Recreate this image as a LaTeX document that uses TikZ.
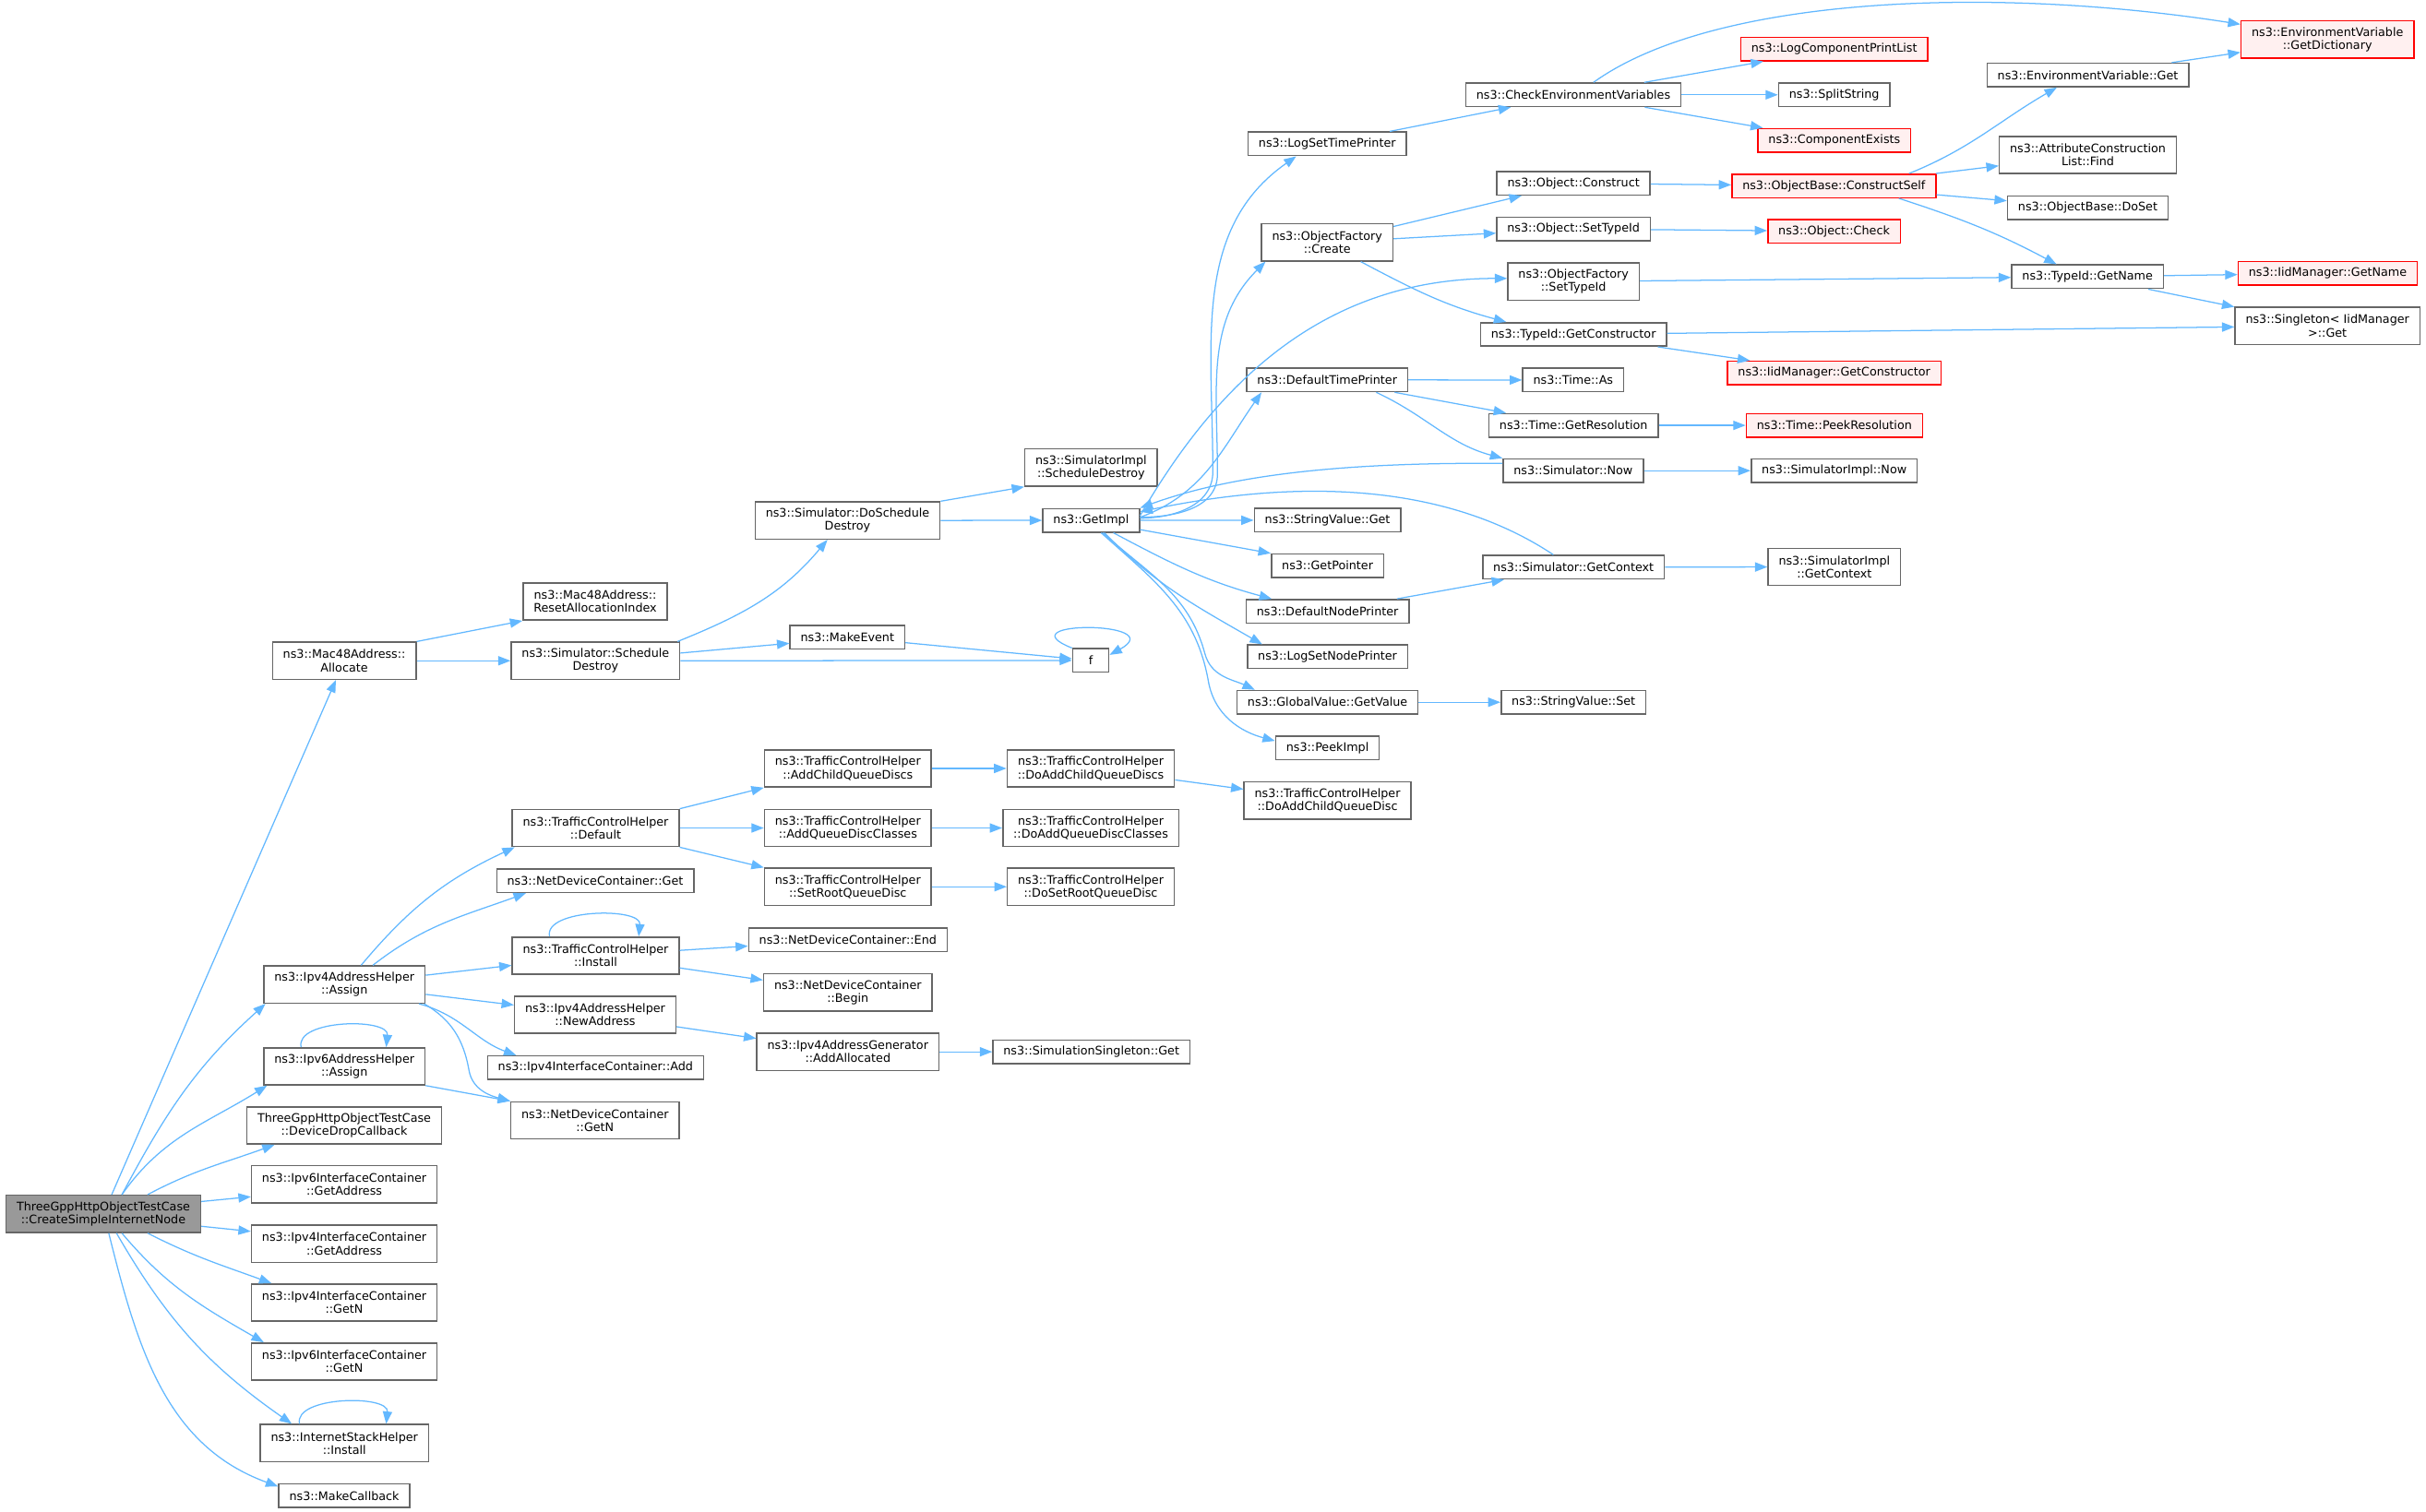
\documentclass[tikz,border=0pt]{standalone}
\usepackage{fontspec}
\setmainfont{DejaVu Sans}
\usetikzlibrary{arrows.meta}

\definecolor{edgeblue}{HTML}{63B8FF}
\definecolor{boxgray}{HTML}{666666}
\definecolor{rootgray}{HTML}{999999}
\definecolor{redfill}{HTML}{FFF0F0}

\tikzset{
  box/.style={draw=boxgray, fill=white, line width=0.9pt, inner xsep=6.8pt, inner ysep=3.8pt,
    minimum height=15.2pt, align=center, font=\fontsize{7.6}{8.4}\selectfont},
  dbl/.style={minimum height=24pt},
  redbox/.style={box, draw=red, fill=redfill},
  rootbox/.style={box, dbl, fill=rootgray},
  callarrow/.style={draw=edgeblue, line width=0.75pt, -{Triangle[length=8pt,width=6pt]}}
}

\begin{document}
\begin{tikzpicture}[x=1pt,y=1pt]

\useasboundingbox (0,0) rectangle (1568,-977.5);

\node[rootbox] (root) at (66.8,-784.8) {ThreeGppHttpObjectTestCase\\::CreateSimpleInternetNode};

\node[box,dbl] (mac48alloc) at (222.5,-427.2) {ns3::Mac48Address::\\Allocate};
\node[box,dbl] (ipv4assign) at (222.6,-636.5) {ns3::Ipv4AddressHelper\\::Assign};
\node[box,dbl] (ipv6assign) at (222.6,-689.4) {ns3::Ipv6AddressHelper\\::Assign};
\node[box,dbl] (devdrop) at (222.5,-727.6) {ThreeGppHttpObjectTestCase\\::DeviceDropCallback};
\node[box,dbl] (ipv6ifaddr) at (222.5,-765.7) {ns3::Ipv6InterfaceContainer\\::GetAddress};
\node[box,dbl] (ipv4ifaddr) at (222.5,-804.1) {ns3::Ipv4InterfaceContainer\\::GetAddress};
\node[box,dbl] (ipv4ifgetn) at (222.5,-842.1) {ns3::Ipv4InterfaceContainer\\::GetN};
\node[box,dbl] (ipv6ifgetn) at (222.5,-880.3) {ns3::Ipv6InterfaceContainer\\::GetN};
\node[box,dbl] (inetinstall) at (222.6,-933) {ns3::InternetStackHelper\\::Install};
\node[box] (makecb) at (222.5,-967) {ns3::MakeCallback};

\node[box,dbl] (resetalloc) at (384.7,-388.9) {ns3::Mac48Address::\\ResetAllocationIndex};
\node[box,dbl] (scheddestroy) at (384.9,-427.2) {ns3::Simulator::Schedule\\Destroy};
\node[box,dbl] (tchdefault) at (385,-535.3) {ns3::TrafficControlHelper\\::Default};
\node[box] (ndcget) at (384.7,-569.4) {ns3::NetDeviceContainer::Get};
\node[box,dbl] (tchinstall) at (385,-617.9) {ns3::TrafficControlHelper\\::Install};
\node[box,dbl] (ipv4newaddr) at (384.7,-656.1) {ns3::Ipv4AddressHelper\\::NewAddress};
\node[box] (ipv4ifadd) at (384.9,-690.3) {ns3::Ipv4InterfaceContainer::Add};
\node[box,dbl] (ndcgetn) at (384.6,-724.3) {ns3::NetDeviceContainer\\::GetN};

\node[box,dbl] (doscheddestroy) at (547.8,-336.5) {ns3::Simulator::DoSchedule\\Destroy};
\node[box] (makeevent) at (547.7,-411.9) {ns3::MakeEvent};
\node[box,dbl] (tchaddchild) at (548,-496.8) {ns3::TrafficControlHelper\\::AddChildQueueDiscs};
\node[box,dbl] (tchaddclasses) at (548,-535.3) {ns3::TrafficControlHelper\\::AddQueueDiscClasses};
\node[box,dbl] (tchsetroot) at (548,-573.3) {ns3::TrafficControlHelper\\::SetRootQueueDisc};
\node[box] (ndcend) at (548,-607.5) {ns3::NetDeviceContainer::End};
\node[box,dbl] (ndcbegin) at (548,-641.6) {ns3::NetDeviceContainer\\::Begin};
\node[box,dbl] (ipv4gen) at (548,-680) {ns3::Ipv4AddressGenerator\\::AddAllocated};

\node[box,dbl] (simimplscheddestroy) at (705.2,-302.3) {ns3::SimulatorImpl\\::ScheduleDestroy};
\node[box] (getimpl) at (705.2,-336.4) {ns3::GetImpl};
\node[box,minimum width=23.4pt] (f) at (705,-427) {f};
\node[box,dbl] (tchdoaddchild) at (705,-496.8) {ns3::TrafficControlHelper\\::DoAddChildQueueDiscs};
\node[box,dbl] (tchdoaddclasses) at (705,-535.3) {ns3::TrafficControlHelper\\::DoAddQueueDiscClasses};
\node[box,dbl] (tchdosetroot) at (705,-573.3) {ns3::TrafficControlHelper\\::DoSetRootQueueDisc};
\node[box] (simsingleton) at (705.4,-680) {ns3::SimulationSingleton::Get};

\node[box] (logsettime) at (857.8,-93) {ns3::LogSetTimePrinter};
\node[box,dbl] (ofcreate) at (857.8,-156.7) {ns3::ObjectFactory\\::Create};
\node[box] (deftime) at (857.8,-245.6) {ns3::DefaultTimePrinter};
\node[box] (strvalget) at (858,-336.3) {ns3::StringValue::Get};
\node[box] (getpointer) at (858,-365.7) {ns3::GetPointer};
\node[box] (defnode) at (858,-395.2) {ns3::DefaultNodePrinter};
\node[box] (logsetnode) at (858,-424.6) {ns3::LogSetNodePrinter};
\node[box] (gvgetvalue) at (858,-454) {ns3::GlobalValue::GetValue};
\node[box] (peekimpl) at (858,-483.5) {ns3::PeekImpl};
\node[box,dbl] (tchdoaddchildqd) at (858,-517.6) {ns3::TrafficControlHelper\\::DoAddChildQueueDisc};

\node[box] (checkenv) at (1016.9,-61.3) {ns3::CheckEnvironmentVariables};
\node[box] (objconstruct) at (1017,-118.5) {ns3::Object::Construct};
\node[box] (objsettypeid) at (1017,-148) {ns3::Object::SetTypeId};
\node[box,dbl] (ofsettypeid) at (1017,-182) {ns3::ObjectFactory\\::SetTypeId};
\node[box] (getconstructor) at (1017,-216.2) {ns3::TypeId::GetConstructor};
\node[box] (timeas) at (1016.8,-245.7) {ns3::Time::As};
\node[box] (timegetres) at (1017,-275) {ns3::Time::GetResolution};
\node[box] (simnow) at (1016.8,-304.3) {ns3::Simulator::Now};
\node[box] (simgetcontext) at (1017,-366.7) {ns3::Simulator::GetContext};
\node[box] (strvalset) at (1017,-454) {ns3::StringValue::Set};

\node[redbox] (logcomplist) at (1185.5,-31.7) {ns3::LogComponentPrintList};
\node[box] (splitstring) at (1185.5,-61.3) {ns3::SplitString};
\node[redbox] (compexists) at (1185.6,-90.7) {ns3::ComponentExists};
\node[redbox] (constructself) at (1185.3,-120.2) {ns3::ObjectBase::ConstructSelf};
\node[redbox] (objcheck) at (1185.4,-149.5) {ns3::Object::Check};
\node[redbox] (iidgetcons) at (1185.5,-241.1) {ns3::IidManager::GetConstructor};
\node[redbox] (timepeekres) at (1185.6,-275) {ns3::Time::PeekResolution};
\node[box] (simimplnow) at (1185.5,-304.3) {ns3::SimulatorImpl::Now};
\node[box,dbl] (simimplcontext) at (1185.6,-366.5) {ns3::SimulatorImpl\\::GetContext};

\node[box] (envget) at (1349.4,-48.5) {ns3::EnvironmentVariable::Get};
\node[box,dbl] (attrfind) at (1349.4,-100.2) {ns3::AttributeConstruction\\List::Find};
\node[box] (objbasedoset) at (1349.4,-134.3) {ns3::ObjectBase::DoSet};
\node[box] (typeidgetname) at (1349.2,-178.9) {ns3::TypeId::GetName};

\node[redbox,dbl] (envgetdict) at (1504.3,-25.5) {ns3::EnvironmentVariable\\::GetDictionary};
\node[redbox] (iidgetname) at (1504.5,-176.7) {ns3::IidManager::GetName};
\node[box,dbl] (singletonget) at (1504.3,-210.7) {ns3::Singleton< IidManager\\>::Get};

% calls made by the root
\draw[callarrow] (root) -- (mac48alloc);
\draw[callarrow] ([xshift=12]root.north) to[out=62,in=222] ([xshift=-51]ipv4assign.south);
\draw[callarrow] ([xshift=12]root.north) to[out=55,in=212] ([xshift=-50]ipv6assign.south);
\draw[callarrow] ([xshift=28.6]root.north) to[out=28,in=200] ([xshift=-45]devdrop.south);
\draw[callarrow] ([yshift=8]root.east) -- ([yshift=-8]ipv6ifaddr.west);
\draw[callarrow] ([yshift=-8]root.east) -- ([yshift=8]ipv4ifaddr.west);
\draw[callarrow] ([xshift=28.6]root.south) to[out=-27,in=160] ([xshift=-47]ipv4ifgetn.north);
\draw[callarrow] ([xshift=12]root.south) to[out=-50,in=150] ([xshift=-52]ipv6ifgetn.north);
\draw[callarrow] ([xshift=8.5]root.south) to[out=-60,in=145] ([xshift=-34]inetinstall.north);
\draw[callarrow] ([xshift=3.5]root.south) to[out=-76,in=160] ([yshift=6]makecb.west);

\draw[callarrow] (mac48alloc.north east) -- (resetalloc.south west);
\draw[callarrow] (mac48alloc) -- (scheddestroy);
\draw[callarrow] ([xshift=53]scheddestroy.north) to[out=22,in=230] ([xshift=-13]doscheddestroy.south);
\draw[callarrow] ([yshift=5]scheddestroy.east) -- ([yshift=-4]makeevent.west);
\draw[callarrow] (scheddestroy) -- (f);
\draw[callarrow] (doscheddestroy.north east) -- (simimplscheddestroy.south west);
\draw[callarrow] (doscheddestroy) -- (getimpl);
\draw[callarrow] (makeevent) -- (f);
\draw[callarrow] (f.north west) .. controls +(-45,18) and +(40,22) .. ([yshift=3.6]f.east);

% ns3::GetImpl
\draw[callarrow] ([yshift=1.4]getimpl.east) to[out=0,in=-90] ++(47,30) to[out=90,in=215] ([xshift=-20]logsettime.south);
\draw[callarrow] ([yshift=2]getimpl.east) to[out=0,in=-90] ++(50,28) to[out=90,in=225] ([xshift=3]ofcreate.south west);
\draw[callarrow] ([yshift=3]getimpl.east) to[out=60,in=180] ([yshift=2]ofsettypeid.west);
\draw[callarrow] ([yshift=2]getimpl.east) to[out=20,in=235] ([xshift=10]deftime.south west);
\draw[callarrow] (getimpl) -- (strvalget);
\draw[callarrow] ([yshift=-6]getimpl.east) -- ([yshift=8]getpointer.west);
\draw[callarrow] ([xshift=14.4]getimpl.south) to[out=-28,in=165] ([xshift=17]defnode.north west);
\draw[callarrow] ([xshift=8.5]getimpl.south) to[out=-45,in=150] ([xshift=10]logsetnode.north west);
\draw[callarrow] ([xshift=7.5]getimpl.south) to[out=-42,in=105] ++(66,-78) to[out=-75,in=155] ([xshift=12]gvgetvalue.north west);
\draw[callarrow] ([xshift=6.5]getimpl.south) to[out=-42,in=100] ++(69.3,-96) to[out=-80,in=165] ([yshift=4.5]peekimpl.west);
\draw[callarrow] ([yshift=4.7]simnow.west) .. controls +(-120,1) and +(50,18) .. (getimpl.north east);
\draw[callarrow] ([xshift=-13]simgetcontext.north) .. controls +(-60,40) and +(120,25) .. ([yshift=-2.5]getimpl.north east);

\draw[callarrow] (logsettime) -- (checkenv);
\draw[callarrow] ([xshift=13]checkenv.north) .. controls +(78,56) and +(-160,25) .. ([yshift=9.8]envgetdict.west);
\draw[callarrow] (checkenv) -- (logcomplist);
\draw[callarrow] (checkenv) -- (splitstring);
\draw[callarrow] (checkenv) -- (compexists);

\draw[callarrow] (ofcreate) -- (objconstruct);
\draw[callarrow] (ofcreate) -- (objsettypeid);
\draw[callarrow] ([xshift=21.7]ofcreate.south) to[out=-28,in=165] ([xshift=17]getconstructor.north west);
\draw[callarrow] (objconstruct) -- (constructself);
\draw[callarrow] (objsettypeid) -- (objcheck);
\draw[callarrow] (ofsettypeid) -- (typeidgetname);
\draw[callarrow] (getconstructor) -- (singletonget);
\draw[callarrow] (getconstructor) -- (iidgetcons);

\draw[callarrow] ([xshift=48.6]constructself.north) to[out=22,in=210] ([xshift=-20]envget.south);
\draw[callarrow] (constructself) -- (attrfind);
\draw[callarrow] (constructself) -- (objbasedoset);
\draw[callarrow] ([xshift=42]constructself.south) to[out=-18,in=152] ([xshift=-20]typeidgetname.north);
\draw[callarrow] (envget) -- (envgetdict);
\draw[callarrow] (typeidgetname) -- (iidgetname);
\draw[callarrow] (typeidgetname) -- (singletonget);

\draw[callarrow] (deftime) -- (timeas);
\draw[callarrow] (deftime) -- (timegetres);
\draw[callarrow] ([xshift=31.7]deftime.south) to[out=-25,in=165] (simnow.north west);
\draw[callarrow] (timegetres) -- (timepeekres);
\draw[callarrow] (simnow) -- (simimplnow);
\draw[callarrow] (defnode) -- (simgetcontext);
\draw[callarrow] (simgetcontext) -- (simimplcontext);
\draw[callarrow] (gvgetvalue) -- (strvalset);

% address helpers and traffic control
\draw[callarrow] ([xshift=10.8]ipv4assign.north) to[out=50,in=205] ([xshift=2]tchdefault.south west);
\draw[callarrow] ([xshift=18.4]ipv4assign.north) to[out=38,in=200] ([xshift=19.3]ndcget.south west);
\draw[callarrow] (ipv4assign) -- (tchinstall);
\draw[callarrow] (ipv4assign) -- (ipv4newaddr);
\draw[callarrow] ([xshift=-4.3]ipv4assign.south east) to[out=-15,in=160] ([xshift=19]ipv4ifadd.north west);
\draw[callarrow] ([xshift=-1]ipv4assign.south east) to[out=-30,in=100] ++(29,-43) to[out=-80,in=165] (ndcgetn.north west);
\draw[callarrow] ([xshift=-28]ipv6assign.north) .. controls +(-4,18) and +(2,19) .. ([xshift=27]ipv6assign.north);
\draw[callarrow] (ipv6assign.south east) -- (ndcgetn.north west);

\draw[callarrow] (tchdefault.north east) -- (tchaddchild.south west);
\draw[callarrow] (tchdefault) -- (tchaddclasses);
\draw[callarrow] (tchdefault.south east) -- (tchsetroot.north west);
\draw[callarrow] (tchaddchild) -- (tchdoaddchild);
\draw[callarrow] (tchaddclasses) -- (tchdoaddclasses);
\draw[callarrow] (tchsetroot) -- (tchdosetroot);
\draw[callarrow] (tchdoaddchild) -- (tchdoaddchildqd);
\draw[callarrow] ([xshift=-29.8]tchinstall.north) .. controls +(-4,18) and +(2,19) .. ([xshift=27.8]tchinstall.north);
\draw[callarrow] (tchinstall) -- (ndcend);
\draw[callarrow] (tchinstall) -- (ndcbegin);
\draw[callarrow] (ipv4newaddr) -- (ipv4gen);
\draw[callarrow] (ipv4gen) -- (simsingleton);
\draw[callarrow] ([xshift=-29]inetinstall.north) .. controls +(-4,18) and +(2,19) .. ([xshift=27]inetinstall.north);

\end{tikzpicture}
\end{document}
